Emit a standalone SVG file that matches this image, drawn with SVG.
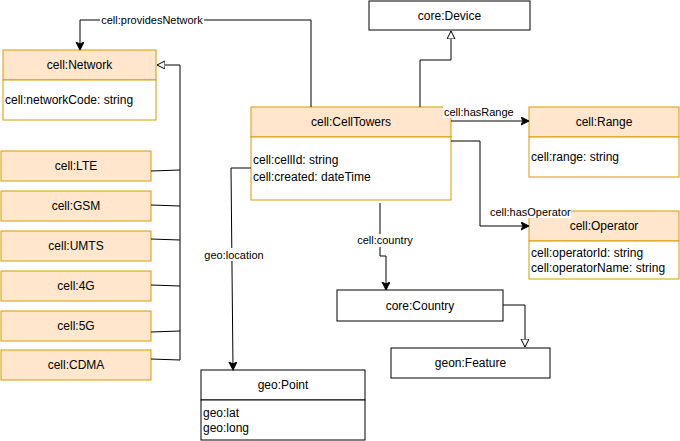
<svg xmlns="http://www.w3.org/2000/svg" width="680" height="441" viewBox="0 0 680 441">
<defs>
<marker id="arr" markerWidth="10" markerHeight="10" refX="7" refY="4" orient="auto" markerUnits="userSpaceOnUse">
<path d="M0,0 L8,4 L0,8 L2,4 Z" fill="#000" stroke="#000" stroke-width="1"/>
</marker>
<marker id="tri" markerWidth="12" markerHeight="12" refX="8" refY="4" orient="auto" markerUnits="userSpaceOnUse">
<path d="M0,0 L8,4 L0,8 Z" fill="#fff" stroke="#000" stroke-width="1"/>
</marker>
<style>
.o{fill:#ffe6cc;stroke:#d79b00;stroke-width:1}
.ob{fill:#fff;stroke:#d79b00;stroke-width:1}
.w{fill:#fff;stroke:#000;stroke-width:1}
.c{fill:none;stroke:#000;stroke-width:1}
text{font-family:"Liberation Sans",Arial,sans-serif;font-size:12px;fill:#000}
.m{text-anchor:middle}
.l{font-size:11px}
.lb{fill:#fff;stroke:none}
</style>
</defs>
<g id="network">
<rect class="o" x="3" y="50" width="153" height="30"/>
<rect class="ob" x="3" y="80" width="153" height="40"/>
<text class="m" x="79.5" y="69">cell:Network</text>
<text x="5" y="104">cell:networkCode: string</text>
</g>
<g id="celltowers">
<rect class="o" x="251" y="107" width="200" height="30"/>
<rect class="ob" x="251" y="137" width="200" height="63"/>
<text class="m" x="351" y="126">cell:CellTowers</text>
<text x="253" y="164">cell:cellId: string</text>
<text x="253" y="181">cell:created: dateTime</text>
</g>
<g id="device">
<rect class="w" x="369" y="1" width="161" height="29"/>
<text class="m" x="449.5" y="20">core:Device</text>
</g>
<g id="range">
<rect class="o" x="529" y="107" width="150" height="30"/>
<rect class="ob" x="529" y="137" width="150" height="40"/>
<text class="m" x="604" y="126">cell:Range</text>
<text x="531" y="161">cell:range: string</text>
</g>
<g id="operator">
<rect class="o" x="529" y="211" width="150" height="30"/>
<rect class="ob" x="529" y="241" width="150" height="38"/>
<text class="m" x="604" y="230">cell:Operator</text>
<text x="531" y="257">cell:operatorId: string</text>
<text x="531" y="272">cell:operatorName: string</text>
</g>
<g id="country">
<rect class="w" x="337" y="290" width="166" height="31"/>
<text class="m" x="420" y="310">core:Country</text>
</g>
<g id="feature">
<rect class="w" x="391" y="348" width="159" height="30"/>
<text class="m" x="470.5" y="367">geon:Feature</text>
</g>
<g id="point">
<rect class="w" x="201" y="370" width="164" height="30"/>
<rect class="w" x="201" y="400" width="164" height="40"/>
<text class="m" x="283" y="389">geo:Point</text>
<text x="203" y="417">geo:lat</text>
<text x="203" y="432">geo:long</text>
</g>
<g id="lte"><rect class="o" x="1" y="151" width="150" height="30"/><text class="m" x="76" y="170">cell:LTE</text></g>
<g id="gsm"><rect class="o" x="1" y="191" width="150" height="30"/><text class="m" x="76" y="210">cell:GSM</text></g>
<g id="umts"><rect class="o" x="1" y="231" width="150" height="30"/><text class="m" x="76" y="250">cell:UMTS</text></g>
<g id="g4"><rect class="o" x="1" y="271" width="150" height="30"/><text class="m" x="76" y="290">cell:4G</text></g>
<g id="g5"><rect class="o" x="1" y="311" width="150" height="30"/><text class="m" x="76" y="330">cell:5G</text></g>
<g id="cdma"><rect class="o" x="1" y="350" width="150" height="30"/><text class="m" x="76" y="369">cell:CDMA</text></g>
<g id="connectors">
<polyline class="c" points="311,107 311,20 80,20 80,49" marker-end="url(#arr)"/>
<polyline class="c" points="420,107 420,60 451,60 451,31" marker-end="url(#tri)"/>
<polyline class="c" points="451,121 528,121" marker-end="url(#arr)"/>
<polyline class="c" points="451,141 480,141 480,226 528,226" marker-end="url(#arr)"/>
<polyline class="c" points="380,203 380,256 386,256 386,289" marker-end="url(#arr)"/>
<polyline class="c" points="503,305 525,305 525,347" marker-end="url(#tri)"/>
<polyline class="c" points="251,168 231,168 233,369" marker-end="url(#arr)"/>
<polyline class="c" points="180,360 180,65 157,65" marker-end="url(#tri)"/>
<line class="c" x1="151" y1="171" x2="180" y2="170"/>
<line class="c" x1="151" y1="205" x2="180" y2="206"/>
<line class="c" x1="151" y1="239" x2="180" y2="240"/>
<line class="c" x1="151" y1="285" x2="180" y2="286"/>
<line class="c" x1="151" y1="332" x2="180" y2="331"/>
<line class="c" x1="151" y1="359" x2="180" y2="360"/>
<rect class="lb" x="100" y="13" width="104" height="13"/>
<text class="l" x="152" y="24" text-anchor="middle">cell:providesNetwork</text>
<rect class="lb" x="443" y="105" width="69" height="13"/>
<text class="l" x="444" y="116">cell:hasRange</text>
<rect class="lb" x="489" y="205" width="82" height="13"/>
<text class="l" x="490" y="216">cell:hasOperator</text>
<rect class="lb" x="356" y="234" width="58" height="13"/>
<text class="l" x="385" y="244" text-anchor="middle">cell:country</text>
<rect class="lb" x="204" y="248" width="60" height="13"/>
<text class="l" x="234" y="259" text-anchor="middle">geo:location</text>
</g>
</svg>
